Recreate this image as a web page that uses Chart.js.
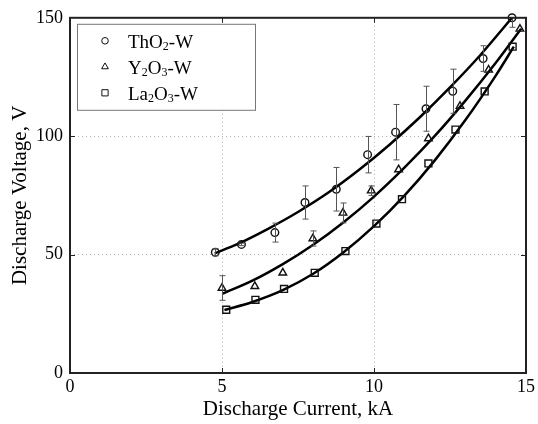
<!DOCTYPE html>
<html>
<head>
<meta charset="utf-8">
<script src="https://cdn.jsdelivr.net/npm/chart.js@4"></script>
<style>
body{margin:0;background:#fff;}
#wrap{width:538px;height:424px;}
</style>
</head>
<body>
<div id="wrap"><canvas id="myChart" width="538" height="424"></canvas></div>
<script>
// measured points
let names=['ThO2-W','Y2O3-W','La2O3-W'];
let styles=['circle','triangle','rect'];
let sizes=[3.8,4.4,4.9];
let tho2_x=[4.78,5.64,6.74,7.73,8.76,9.79,10.71,11.71,12.59,13.59,14.54];
let tho2_y=[51,54.3,59.3,72,77.6,92.2,101.7,111.6,119,132.8,150];
let tho2_err=[1.5,0.5,4,7,9.2,7.7,11.7,9.5,9.3,5.4,4];
let y2o3_x=[5.0,6.08,7.0,7.99,8.98,9.91,10.81,11.79,12.83,13.77,14.8];
let y2o3_y=[35.9,36.6,42.3,56.8,67.6,77,85.9,99,112.7,128,145.3];
let y2o3_err=[5.2,0,0,3.2,4.2,2,0,0,0,0,0];
let la2o3_x=[5.14,6.1,7.04,8.05,9.06,10.08,10.92,11.79,12.68,13.64,14.56];
let la2o3_y=[26.7,30.9,35.5,42.3,51.5,63.1,73.4,88.5,102.8,118.9,137.8];
let la2o3_err=[0,0,0,0,0,0,0,0,0,0,0];
// fitted curves
let tho2_fit_x=[4.76,5.5,6.5,7.5,8.5,9.5,10.5,11.5,12.5,13.5,14.54];
let tho2_fit_y=[50.5,54.4,60.8,68,76.2,85.7,96.3,107.9,120.6,134.3,150];
let y2o3_fit_x=[5.02,6,7,8,9,10,11,12,13,14,14.84];
let y2o3_fit_y=[33.5,39,46,54.2,63.7,74.5,86.7,100.1,114.9,130.9,145.4];
let la2o3_fit_x=[5.08,6,7,8,9,10,11,12,13,14,14.6];
let la2o3_fit_y=[26.6,30,35,41.9,51,62,74.9,89.8,106.7,125.5,137.8];
let xticks=[0,5,10,15];
let yticks=[0,50,100,150];

function pts(xs,ys){ return xs.map((x,i)=>({x:x,y:ys[i]})); }

let pointSets=[[tho2_x,tho2_y,tho2_err],[y2o3_x,y2o3_y,y2o3_err],[la2o3_x,la2o3_y,la2o3_err]];
let fitSets=[[tho2_fit_x,tho2_fit_y],[y2o3_fit_x,y2o3_fit_y],[la2o3_fit_x,la2o3_fit_y]];

Chart.defaults.font.family="'Liberation Serif','Times New Roman',serif";
Chart.defaults.color='#000';

let datasets=[];
pointSets.forEach((s,i)=>{
    datasets.push({
        label:names[i],
        data:pts(s[0],s[1]),
        pointStyle:styles[i],
        pointRadius:sizes[i],
        pointBorderWidth:1.4,
        borderColor:'#111',
        backgroundColor:'rgba(255,255,255,0)',
        clip:false
    });
});
fitSets.forEach((s,i)=>{
    datasets.push({
        label:names[i]+' fit',
        data:pts(s[0],s[1]),
        showLine:true,
        pointRadius:0,
        borderColor:'#000',
        borderWidth:2.5,
        cubicInterpolationMode:'monotone'
    });
});

// error bars
const errorBars={
    id:'errorBars',
    afterDatasetsDraw(chart){
        const ctx=chart.ctx, a=chart.chartArea;
        const xs=chart.scales.x, ys=chart.scales.y;
        ctx.save();
        ctx.beginPath(); ctx.rect(a.left,a.top,a.right-a.left,a.bottom-a.top); ctx.clip();
        ctx.strokeStyle='#555'; ctx.lineWidth=1;
        pointSets.forEach(s=>{
            s[0].forEach((x,i)=>{
                let e=s[2][i];
                if(!e) return;
                let px=Math.round(xs.getPixelForValue(x))+0.5;
                let top=ys.getPixelForValue(s[1][i]+e), bot=ys.getPixelForValue(s[1][i]-e);
                ctx.beginPath();
                ctx.moveTo(px,top); ctx.lineTo(px,bot);
                ctx.moveTo(px-3,top); ctx.lineTo(px+3,top);
                ctx.moveTo(px-3,bot); ctx.lineTo(px+3,bot);
                ctx.stroke();
            });
        });
        ctx.restore();
    }
};

// frame, inner ticks and legend
function drawLabel(ctx,s,x,y){
    s.split(/(\d)/).forEach(p=>{
        if(!p) return;
        let sub=/^\d$/.test(p);
        ctx.font=(sub?'12px':'19px')+" 'Liberation Serif'";
        ctx.fillText(p,x,sub?y+2:y);
        x+=ctx.measureText(p).width;
    });
}
const frame={
    id:'frame',
    afterDraw(chart){
        const ctx=chart.ctx, a=chart.chartArea;
        const xs=chart.scales.x, ys=chart.scales.y;
        ctx.save();
        ctx.strokeStyle='#222'; ctx.lineWidth=1;
        ctx.beginPath();
        xticks.slice(1,-1).forEach(v=>{
            let p=Math.round(xs.getPixelForValue(v))+0.5;
            ctx.moveTo(p,a.bottom); ctx.lineTo(p,a.bottom-5);
            ctx.moveTo(p,a.top); ctx.lineTo(p,a.top+5);
        });
        yticks.slice(1,-1).forEach(v=>{
            let p=Math.round(ys.getPixelForValue(v))+0.5;
            ctx.moveTo(a.left,p); ctx.lineTo(a.left+5,p);
            ctx.moveTo(a.right,p); ctx.lineTo(a.right-5,p);
        });
        ctx.stroke();
        ctx.lineWidth=2;
        ctx.strokeRect(a.left,a.top,a.right-a.left,a.bottom-a.top);

        // legend
        const x0=a.left+7, y0=a.top+6, w=178, h=86;
        ctx.fillStyle='#fff'; ctx.fillRect(x0,y0,w,h);
        ctx.strokeStyle='#777'; ctx.lineWidth=1;
        ctx.strokeRect(x0+0.5,y0+0.5,w,h);
        names.forEach((n,i)=>{
            let cy=y0+17+i*26;
            ctx.strokeStyle='#111'; ctx.fillStyle='rgba(255,255,255,0)';
            Chart.helpers.drawPoint(ctx,{pointStyle:styles[i],radius:sizes[i]-0.5,borderWidth:1.5,rotation:0},x0+28,cy);
            ctx.fillStyle='#000'; ctx.textBaseline='alphabetic'; ctx.textAlign='left';
            drawLabel(ctx,n,x0+51,cy+7);
        });
        ctx.restore();
    }
};

function gridColor(ctx,ends){
    return ends.indexOf(ctx.tick.value)>=0 ? 'rgba(0,0,0,0)' : '#b0b0b0';
}

var ct=document.getElementById('myChart');
let chart=new Chart(ct,{
    type:'scatter',
    data:{datasets:datasets},
    plugins:[errorBars,frame],
    options:{
        responsive:false,
        animation:false,
        layout:{padding:{top:14,right:8,left:0,bottom:0}},
        plugins:{legend:{display:false},tooltip:{enabled:false}},
        scales:{
            x:{
                type:'linear',min:0,max:15,
                afterBuildTicks:s=>{s.ticks=xticks.map(v=>({value:v}));},
                afterFit:s=>{s.height=51;},
                ticks:{color:'#000',font:{size:18},padding:3},
                grid:{color:c=>gridColor(c,[0,15]),drawTicks:false,lineWidth:1},
                border:{display:false,dash:[1,3]},
                title:{display:true,text:'Discharge Current, kA',color:'#000',font:{size:21},padding:{top:0,bottom:2}}
            },
            y:{
                type:'linear',min:0,max:150,
                afterBuildTicks:s=>{s.ticks=yticks.map(v=>({value:v}));},
                afterFit:s=>{s.width=70;},
                ticks:{color:'#000',font:{size:18},padding:7},
                grid:{color:c=>gridColor(c,[0,150]),drawTicks:false,lineWidth:1},
                border:{display:false,dash:[1,3]},
                title:{display:true,text:'Discharge Voltage, V',color:'#000',font:{size:21},padding:{top:8,bottom:0}}
            }
        }
    }
});
</script>
</body>
</html>
